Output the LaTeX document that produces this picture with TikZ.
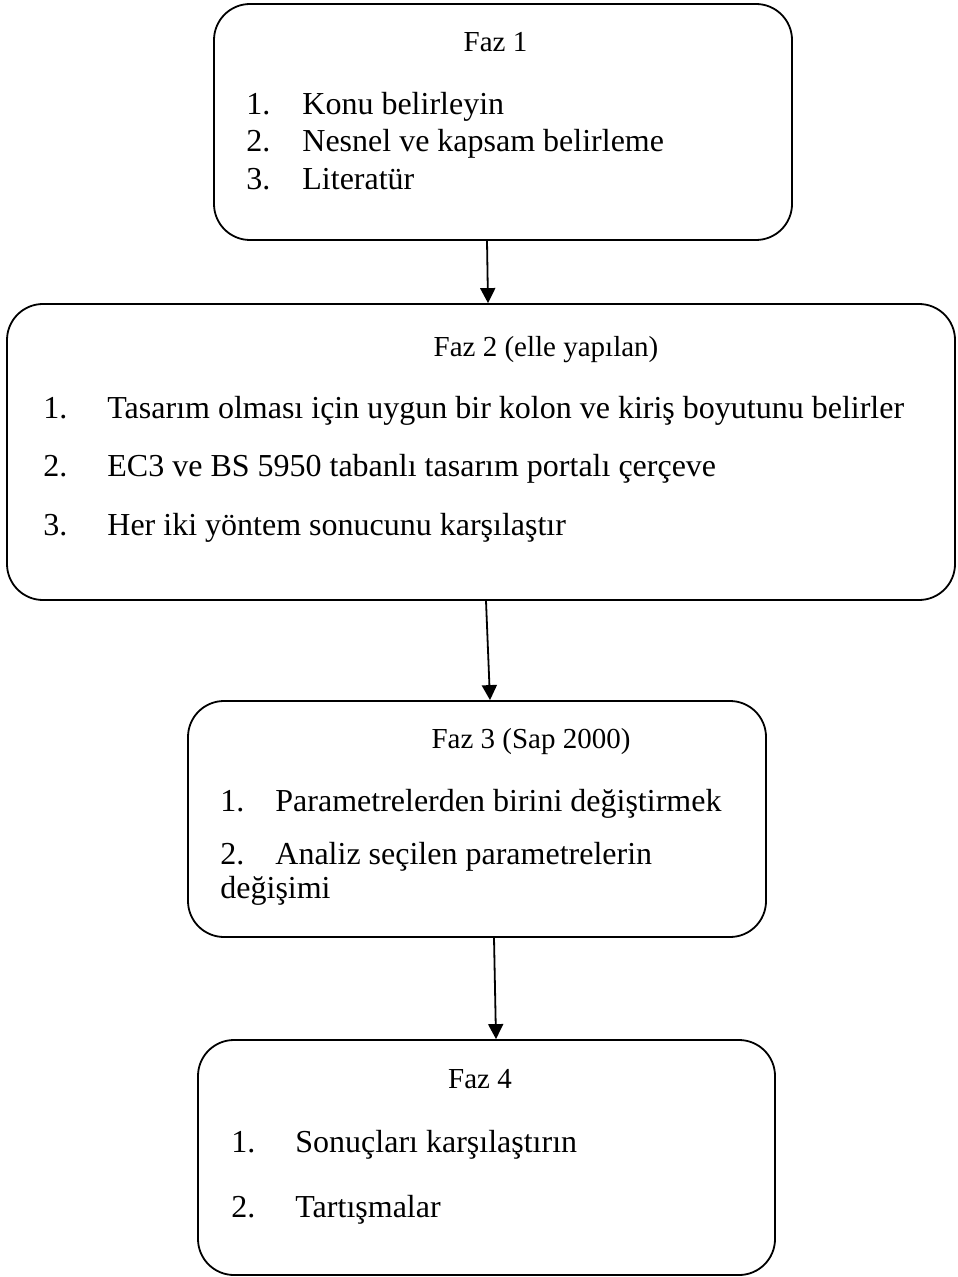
\documentclass[tikz,border=0pt]{standalone}
\usepackage{fontspec}
\setmainfont{Liberation Serif}
\usetikzlibrary{arrows.meta}

\begin{document}
\begin{tikzpicture}
[x=0.5pt,y=-0.5pt,
 faz/.style={draw,rounded corners=18pt,line width=0.9pt,inner sep=0pt},
 baslik/.style={anchor=base,inner sep=0pt,font=\fontsize{14.5}{17}\selectfont},
 madde/.style={anchor=base west,inner sep=0pt,font=\fontsize{16}{19}\selectfont},
 ok/.style={-{Triangle[length=7.5pt,width=7.5pt]},line width=0.9pt}]
\useasboundingbox (0,0) rectangle (957,1277);

% Faz 1
\node[faz,minimum width=289pt,minimum height=118pt] (faz1) at (503,122) {};
\node[baslik] (t1) at (495.5,52) {Faz 1};
\node[madde] (n11) at (246,115) {1.};
\node[madde] (m11) at (302,115) {Konu belirleyin};
\node[madde] (n12) at (246,152) {2.};
\node[madde] (m12) at (302,152) {Nesnel ve kapsam belirleme};
\node[madde] (n13) at (246,190) {3.};
\node[madde] (m13) at (302,190) {Literatür};

% Faz 2
\node[faz,minimum width=474pt,minimum height=148pt] (faz2) at (481,452) {};
\node[baslik] (t2) at (546,357) {Faz 2 (elle yapılan)};
\node[madde] (n21) at (43,419) {1.};
\node[madde] (m21) at (107,419) {Tasarım olması için uygun bir kolon ve kiriş boyutunu belirler};
\node[madde] (n22) at (43,477) {2.};
\node[madde] (m22) at (107,477) {EC3 ve BS 5950 tabanlı tasarım portalı çerçeve};
\node[madde] (n23) at (43,535) {3.};
\node[madde] (m23) at (107,535) {Her iki yöntem sonucunu karşılaştır};

% Faz 3
\node[faz,minimum width=289pt,minimum height=118pt] (faz3) at (477,819) {};
\node[baslik] (t3) at (531,748) {Faz 3 (Sap 2000)};
\node[madde] (n31) at (220,811) {1.};
\node[madde] (m31) at (275,811) {Parametrelerden birini değiştirmek};
\node[madde] (n32) at (220,864) {2.};
\node[madde] (m32) at (275,864) {Analiz seçilen parametrelerin};
\node[madde] (m33) at (220,898) {değişimi};

% Faz 4
\node[faz,minimum width=288.5pt,minimum height=117.5pt] (faz4) at (486.5,1157.5) {};
\node[baslik] (t4) at (480,1088) {Faz 4};
\node[madde] (n41) at (231,1152) {1.};
\node[madde] (m41) at (295,1152) {Sonuçları karşılaştırın};
\node[madde] (n42) at (231,1217) {2.};
\node[madde] (m42) at (295,1217) {Tartışmalar};

\draw[ok] ([xshift=-8pt]faz1.south) -- ([xshift=3.5pt]faz2.north);
\draw[ok] ([xshift=2.5pt]faz2.south) -- ([xshift=6.5pt]faz3.north);
\draw[ok] ([xshift=8.5pt]faz3.south) -- ([xshift=4.75pt]faz4.north);
\end{tikzpicture}
\end{document}
